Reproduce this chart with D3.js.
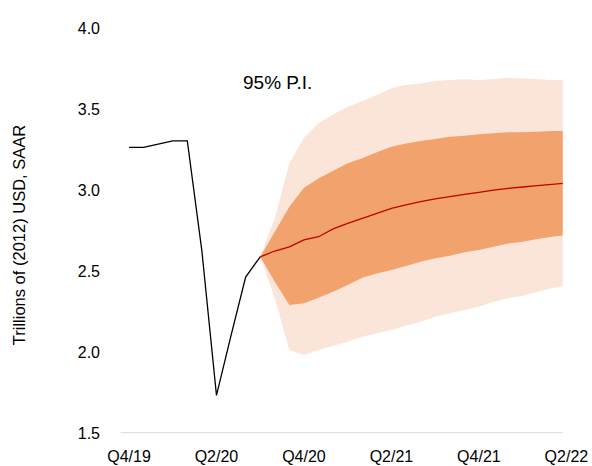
<!DOCTYPE html>
<html>
<head>
<meta charset="utf-8">
<script src="https://cdn.jsdelivr.net/npm/d3@7"></script>
<style>
  html, body { margin: 0; padding: 0; background: #fff; }
  svg { display: block; font-family: "Liberation Sans", Arial, sans-serif; }
</style>
</head>
<body>
<svg id="chart" width="592" height="466"></svg>
<script>
// ---- data ----
// monthly index: 0 = Q4/19 ... 30 = Q2/22
const tickLabels = ["Q4/19", "Q2/20", "Q4/20", "Q2/21", "Q4/21", "Q2/22"];
const tickIndex = [0, 6, 12, 18, 24, 30];
const yTicks = [1.5, 2.0, 2.5, 3.0, 3.5, 4.0];

const actualIdx = [0, 1, 2, 3, 4, 5, 6, 7, 8, 9];
const actual = [3.26, 3.26, 3.28, 3.30, 3.30, 2.62, 1.73, 2.10, 2.46, 2.585];

const fcIdx = [9, 10, 11, 12, 13, 14, 15, 16, 17, 18, 19, 20, 21, 22, 23, 24, 25, 26, 27, 28, 29, 30];
const median = [2.585, 2.621, 2.647, 2.689, 2.709, 2.757, 2.792, 2.823, 2.853, 2.884, 2.905, 2.925, 2.942, 2.956, 2.971, 2.983, 2.997, 3.008, 3.016, 3.024, 3.032, 3.040];
const inner_hi = [2.585, 2.74, 2.894, 3.011, 3.069, 3.116, 3.162, 3.193, 3.23, 3.264, 3.285, 3.30, 3.312, 3.326, 3.332, 3.341, 3.347, 3.353, 3.353, 3.357, 3.361, 3.361];
const inner_lo = [2.585, 2.432, 2.288, 2.298, 2.333, 2.37, 2.411, 2.456, 2.483, 2.504, 2.528, 2.555, 2.576, 2.592, 2.613, 2.627, 2.647, 2.668, 2.678, 2.695, 2.709, 2.72];
const outer_hi = [2.586, 2.823, 3.162, 3.32, 3.409, 3.464, 3.511, 3.546, 3.583, 3.625, 3.645, 3.655, 3.67, 3.676, 3.68, 3.676, 3.682, 3.69, 3.686, 3.682, 3.676, 3.676];
const outer_lo = [2.586, 2.329, 2.01, 1.979, 2.01, 2.037, 2.061, 2.092, 2.113, 2.134, 2.16, 2.185, 2.216, 2.237, 2.257, 2.277, 2.308, 2.329, 2.345, 2.37, 2.391, 2.407];

// ---- chart ----
const svg = d3.select("#chart");
const x = d3.scaleLinear().domain([0, 30]).range([129, 566.4]);
const y = d3.scaleLinear().domain([1.5, 4.0]).range([432.7, 27.5]);
const plotLeft = 120.7, plotRight = 562.7;

svg.append("defs").append("clipPath").attr("id", "clip")
  .append("rect").attr("x", plotLeft).attr("y", 0)
  .attr("width", plotRight - plotLeft).attr("height", 466);

const g = svg.append("g").attr("clip-path", "url(#clip)");

const fc = fcIdx.map((k, i) => ({k, m: median[i], ih: inner_hi[i], il: inner_lo[i], oh: outer_hi[i], ol: outer_lo[i]}));

const areaOuter = d3.area().x(d => x(d.k)).y0(d => y(d.ol)).y1(d => y(d.oh));
const areaInner = d3.area().x(d => x(d.k)).y0(d => y(d.il)).y1(d => y(d.ih));

g.append("path").datum(fc).attr("d", areaOuter).attr("fill", "#FBE5D8");
g.append("path").datum(fc).attr("d", areaInner).attr("fill", "#F2A26C");

g.append("path").datum(fc)
  .attr("d", d3.line().x(d => x(d.k)).y(d => y(d.m)))
  .attr("fill", "none").attr("stroke", "#C00000").attr("stroke-width", 1.3);

const act = actualIdx.map((k, i) => ({k, v: actual[i]}));
g.append("path").datum(act)
  .attr("d", d3.line().x(d => x(d.k)).y(d => y(d.v)))
  .attr("fill", "none").attr("stroke", "#000").attr("stroke-width", 1.3)
  .attr("stroke-linejoin", "miter");

// x axis line
svg.append("line")
  .attr("x1", plotLeft).attr("x2", plotRight)
  .attr("y1", y(1.5)).attr("y2", y(1.5))
  .attr("stroke", "#D9D9D9").attr("stroke-width", 1);

// x tick labels
svg.append("g").selectAll("text").data(tickIndex).join("text")
  .attr("x", d => x(d)).attr("y", 462)
  .attr("text-anchor", "middle").attr("font-size", 16).attr("fill", "#000")
  .text((d, i) => tickLabels[i]);

// y tick labels
svg.append("g").selectAll("text").data(yTicks).join("text")
  .attr("x", 100).attr("y", d => y(d) + 6)
  .attr("text-anchor", "end").attr("font-size", 16).attr("fill", "#000")
  .text(d => d3.format(".1f")(d));

// y title
svg.append("text")
  .attr("transform", "translate(25,235) rotate(-90)")
  .attr("text-anchor", "middle").attr("font-size", 16.5).attr("fill", "#000")
  .text("Trillions of (2012) USD, SAAR");

// annotation
svg.append("text")
  .attr("x", 243).attr("y", 89)
  .attr("font-size", 19).attr("fill", "#000")
  .text("95% P.I.");
</script>
</body>
</html>
